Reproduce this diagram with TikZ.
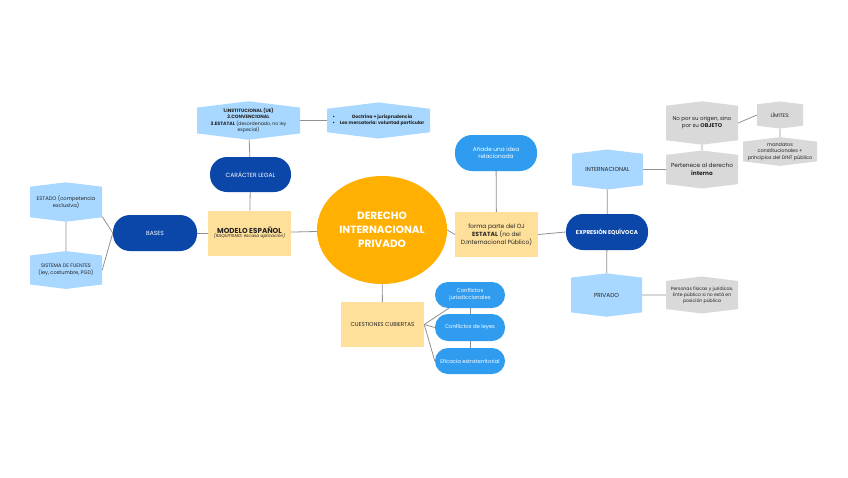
\documentclass[tikz,border=0pt]{standalone}
\usepackage{fontspec}
\setmainfont{Poppins}
\usepackage{tikz}
\usetikzlibrary{positioning,shapes.geometric,shapes.symbols,backgrounds}
\definecolor{dBlue}{RGB}{10,71,168}
\definecolor{mBlue}{RGB}{47,156,240}
\definecolor{lBlue}{RGB}{168,216,255}
\definecolor{lYellow}{RGB}{255,224,154}
\definecolor{dOrange}{RGB}{255,176,0}
\definecolor{lGray}{RGB}{217,217,217}
\definecolor{dLine}{RGB}{145,145,145}
\definecolor{dText}{RGB}{35,35,35}
\newcommand{\fs}[1]{\fontsize{#1}{1.3\dimexpr#1pt\relax}\selectfont}
\tikzset{
  pill/.style={rectangle, rounded corners=17pt, fill=dBlue, text=white,
               minimum height=36pt, minimum width=83pt, align=center,
               font=\fs{6}, inner sep=1pt},
  pillm/.style={pill, fill=mBlue, rounded corners=13pt, minimum height=26pt,
                minimum width=70pt, font=\fs{5.3}},
  note/.style={rectangle, fill=lYellow, text=dText, minimum height=45pt,
               minimum width=83pt, align=center, inner sep=1pt},
  hexa/.style={signal, signal to=north and south, signal pointer angle=166,
               fill=lBlue, text=dText, minimum width=72pt, minimum height=37pt,
               align=center, font=\fs{5}, inner sep=1pt},
  hexg/.style={hexa, fill=lGray},
  link/.style={draw=dLine, line width=0.8pt},
}

\begin{document}
\begin{tikzpicture}[x=1pt, y=-1pt]
  \useasboundingbox (0,0) rectangle (848,477);
  % centro
  \node[ellipse, fill=dOrange, text=white, minimum width=128pt, minimum height=108pt,
        align=center, font=\fontsize{10.5}{14}\selectfont\bfseries] (dip) at (382,230)
        {DERECHO\\INTERNACIONAL\\PRIVADO};
  % rama izquierda
  \node[note, font=\fs{4.3}] (modelo) at (249.5,233)
        {{\fontsize{7.2}{9}\selectfont\bfseries MODELO ESPAÑOL}\\[-1pt]
         \itshape (RAQUITISMO: escasa aplicación)};
  \node[pill, minimum width=81pt, minimum height=35pt] (caracter) at (250.5,174.5) {CARÁCTER LEGAL};
  \node[hexa, minimum width=103pt, minimum height=35pt, font=\fs{4.7}] (codif) at (248.5,120.5)
        {\bfseries 1.INSTITUCIONAL (UE)\\\bfseries 2.CONVENCIONAL\\
         \textbf{3.ESTATAL} (desordenado, no ley\\especial)};
  \node[hexa, minimum width=103pt, minimum height=35pt, font=\fs{4.6}\bfseries] (doctrina) at (378.5,120.5)
        {\begin{tabular}{@{}l@{\hspace{5pt}}c@{}}
         \textbullet & Doctrina + jurisprudencia\\
         \textbullet & Lex mercatoria: voluntad particular
         \end{tabular}};
  \node[pill, minimum width=84pt] (bases) at (155,233) {BASES};
  \node[hexa, minimum height=38pt, font=\fs{5.2}] (estado) at (66,202)
        {ESTADO (competencia\\exclusiva)};
  \node[hexa, minimum height=36pt, font=\fs{5.1}] (fuentes) at (66,270)
        {SISTEMA DE FUENTES\\(ley, costumbre, PGD)};
  % rama derecha
  \node[note, font=\fs{6}] (oj) at (496.5,234.5)
        {forma parte del OJ\\\textbf{ESTATAL} (no del\\D.Internacional Público)};
  \node[pill, fill=mBlue, minimum width=82pt, font=\fs{5.8}] (idea) at (496,153)
        {Añade una idea\\relacionada};
  \node[pill, minimum width=82pt, font=\fs{5.6}\bfseries] (equivoca) at (607,232) {EXPRESIÓN EQUÍVOCA};
  \node[hexa, minimum width=71pt, font=\fs{5.8}] (internac) at (607.5,169.5) {INTERNACIONAL};
  \node[hexa, minimum width=71pt, minimum height=38pt, font=\fs{5.8}] (privado) at (606.5,295) {PRIVADO};
  \node[hexg, minimum height=36pt, font=\fs{4.6}] (personas) at (702,295)
        {Personas físicas y jurídicas.\\Ente público si no está en\\posición pública};
  \node[hexg, font=\fs{5.8}] (pertenece) at (702,169.5) {Pertenece al derecho\\\textbf{interno}};
  \node[hexg, minimum height=42pt, font=\fs{5.5}] (objeto) at (702,123)
        {No por su origen, sino\\por su \textbf{OBJETO}};
  \node[hexg, minimum width=46pt, minimum height=24pt, font=\fs{5.2}] (limites) at (780,115) {LÍMITES:};
  \node[hexg, minimum width=74pt, minimum height=27pt, font=\fs{4.9}] (mandatos) at (780,151.5)
        {mandatos\\constitucionales +\\principios del DINT público};
  % rama inferior
  \node[note, font=\fs{5.6}] (cuestiones) at (382.5,324.5) {CUESTIONES CUBIERTAS};
  \node[pillm] (cjur) at (470,295) {Conflictos\\jurisdiccionales};
  \node[pillm, minimum height=27pt] (cley) at (470,327.5) {Conflictos de leyes};
  \node[pillm] (efic) at (470,361) {Eficacia extraterritorial};
  % conectores
  \begin{scope}[on background layer]
    \fill[white] (0,0) rectangle (848,477);
    \draw[link] (modelo) -- (dip);
    \draw[link] (modelo) -- (caracter);
    \draw[link] (caracter) -- (codif);
    \draw[link] (codif) -- (doctrina);
    \draw[link] (bases) -- (modelo);
    \draw[link] (bases.west) -- (estado.-22);
    \draw[link] (bases.west) -- (fuentes.east);
    \draw[link] (estado) -- (fuentes);
    \draw[link] (dip.east) -- (oj.west);
    \draw[link] (idea) -- (oj);
    \draw[link] (oj.east) -- (equivoca.west);
    \draw[link] (equivoca) -- (internac);
    \draw[link] (equivoca) -- (privado);
    \draw[link] (internac) -- (pertenece);
    \draw[link] (privado) -- (personas);
    \draw[link] (pertenece) -- (objeto);
    \draw[link] (objeto.east) -- (limites.west);
    \draw[link] (limites) -- (mandatos);
    \draw[link] (dip) -- (cuestiones);
    \draw[link] (cuestiones.east) -- (cjur.212);
    \draw[link] (cuestiones.east) -- (cley.west);
    \draw[link] (cuestiones.east) -- (efic.west);
    \draw[link] (cjur) -- (cley);
    \draw[link] (cley) -- (efic);
  \end{scope}
\end{tikzpicture}
\end{document}
